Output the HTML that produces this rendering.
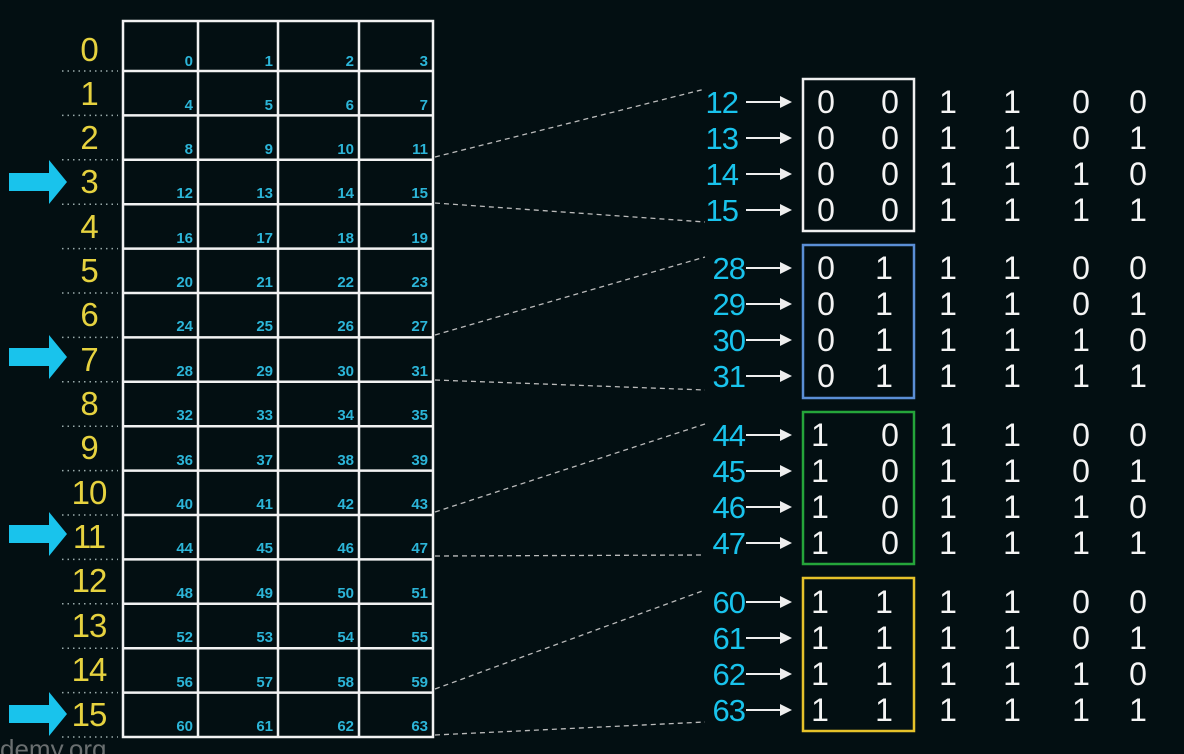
<!DOCTYPE html><html><head><style>body{margin:0;background:#030f12;}svg{display:block}</style></head><body>
<svg width="1184" height="754" viewBox="0 0 1184 754" xmlns="http://www.w3.org/2000/svg" font-family="Liberation Sans, sans-serif">
<rect width="1184" height="754" fill="#030f12"/>
<g stroke="#f2f2f2" stroke-width="2.5" fill="none">
<rect x="123" y="21" width="310" height="716"/>
<line x1="198" y1="21" x2="198" y2="737"/><line x1="278" y1="21" x2="278" y2="737"/><line x1="359" y1="21" x2="359" y2="737"/>
<line x1="123" y1="71" x2="433" y2="71"/><line x1="123" y1="115.4" x2="433" y2="115.4"/><line x1="123" y1="159.8" x2="433" y2="159.8"/><line x1="123" y1="204.2" x2="433" y2="204.2"/><line x1="123" y1="248.6" x2="433" y2="248.6"/><line x1="123" y1="293" x2="433" y2="293"/><line x1="123" y1="337.4" x2="433" y2="337.4"/><line x1="123" y1="381.8" x2="433" y2="381.8"/><line x1="123" y1="426.2" x2="433" y2="426.2"/><line x1="123" y1="470.6" x2="433" y2="470.6"/><line x1="123" y1="515" x2="433" y2="515"/><line x1="123" y1="559.4" x2="433" y2="559.4"/><line x1="123" y1="603.8" x2="433" y2="603.8"/><line x1="123" y1="648.2" x2="433" y2="648.2"/><line x1="123" y1="692.6" x2="433" y2="692.6"/>
</g>
<g stroke="#9aa" stroke-width="1.5" stroke-dasharray="1.5 4">
<line x1="62" y1="71" x2="118" y2="71"/><line x1="62" y1="115.4" x2="118" y2="115.4"/><line x1="62" y1="159.8" x2="118" y2="159.8"/><line x1="62" y1="204.2" x2="118" y2="204.2"/><line x1="62" y1="248.6" x2="118" y2="248.6"/><line x1="62" y1="293" x2="118" y2="293"/><line x1="62" y1="337.4" x2="118" y2="337.4"/><line x1="62" y1="381.8" x2="118" y2="381.8"/><line x1="62" y1="426.2" x2="118" y2="426.2"/><line x1="62" y1="470.6" x2="118" y2="470.6"/><line x1="62" y1="515" x2="118" y2="515"/><line x1="62" y1="559.4" x2="118" y2="559.4"/><line x1="62" y1="603.8" x2="118" y2="603.8"/><line x1="62" y1="648.2" x2="118" y2="648.2"/><line x1="62" y1="692.6" x2="118" y2="692.6"/><line x1="62" y1="737" x2="118" y2="737"/>
</g>
<g fill="#2cb5d8" font-size="15" font-weight="bold" text-anchor="end">
<text x="193" y="66">0</text><text x="273" y="66">1</text><text x="354" y="66">2</text><text x="428" y="66">3</text>
<text x="193" y="110">4</text><text x="273" y="110">5</text><text x="354" y="110">6</text><text x="428" y="110">7</text>
<text x="193" y="154">8</text><text x="273" y="154">9</text><text x="354" y="154">10</text><text x="428" y="154">11</text>
<text x="193" y="198">12</text><text x="273" y="198">13</text><text x="354" y="198">14</text><text x="428" y="198">15</text>
<text x="193" y="243">16</text><text x="273" y="243">17</text><text x="354" y="243">18</text><text x="428" y="243">19</text>
<text x="193" y="287">20</text><text x="273" y="287">21</text><text x="354" y="287">22</text><text x="428" y="287">23</text>
<text x="193" y="331">24</text><text x="273" y="331">25</text><text x="354" y="331">26</text><text x="428" y="331">27</text>
<text x="193" y="376">28</text><text x="273" y="376">29</text><text x="354" y="376">30</text><text x="428" y="376">31</text>
<text x="193" y="420">32</text><text x="273" y="420">33</text><text x="354" y="420">34</text><text x="428" y="420">35</text>
<text x="193" y="465">36</text><text x="273" y="465">37</text><text x="354" y="465">38</text><text x="428" y="465">39</text>
<text x="193" y="509">40</text><text x="273" y="509">41</text><text x="354" y="509">42</text><text x="428" y="509">43</text>
<text x="193" y="553">44</text><text x="273" y="553">45</text><text x="354" y="553">46</text><text x="428" y="553">47</text>
<text x="193" y="598">48</text><text x="273" y="598">49</text><text x="354" y="598">50</text><text x="428" y="598">51</text>
<text x="193" y="642">52</text><text x="273" y="642">53</text><text x="354" y="642">54</text><text x="428" y="642">55</text>
<text x="193" y="687">56</text><text x="273" y="687">57</text><text x="354" y="687">58</text><text x="428" y="687">59</text>
<text x="193" y="731">60</text><text x="273" y="731">61</text><text x="354" y="731">62</text><text x="428" y="731">63</text>
</g>
<g fill="#e6d23f" font-size="33" text-anchor="middle" letter-spacing="-1">
<text x="89" y="61">0</text><text x="89" y="105">1</text><text x="89" y="149">2</text><text x="89" y="193">3</text><text x="89" y="238">4</text><text x="89" y="282">5</text><text x="89" y="326">6</text><text x="89" y="371">7</text><text x="89" y="415">8</text><text x="89" y="459">9</text><text x="89" y="504">10</text><text x="89" y="548">11</text><text x="89" y="592">12</text><text x="89" y="637">13</text><text x="89" y="681">14</text><text x="89" y="726">15</text>
</g>
<g fill="#19c3ec">
<path d="M9 173h40v-13l18 22-18 22v-13H9z"/>
<path d="M9 348h40v-13l18 22-18 22v-13H9z"/>
<path d="M9 525h40v-13l18 22-18 22v-13H9z"/>
<path d="M9 705h40v-13l18 22-18 22v-13H9z"/>
</g>
<g stroke="#bbb" stroke-width="1.3" stroke-dasharray="5 4">
<line x1="435" y1="157" x2="705" y2="89"/><line x1="435" y1="203" x2="705" y2="222"/>
<line x1="435" y1="335" x2="705" y2="257"/><line x1="435" y1="380" x2="705" y2="390"/>
<line x1="435" y1="512" x2="705" y2="424"/><line x1="435" y1="556" x2="705" y2="555"/>
<line x1="435" y1="689" x2="705" y2="590"/><line x1="435" y1="735" x2="705" y2="722"/>
</g>
<g fill="none" stroke-width="2.5">
<rect x="803" y="79" width="111" height="152" stroke="#f0f0f0"/>
<rect x="803" y="245" width="111" height="153" stroke="#5b8fd6"/>
<rect x="803" y="412" width="111" height="152" stroke="#25a53a"/>
<rect x="803" y="578" width="111" height="153" stroke="#e6c22a"/>
</g>
<g stroke="#eee" stroke-width="2">
<line x1="746" y1="102" x2="782" y2="102"/><line x1="746" y1="138" x2="782" y2="138"/><line x1="746" y1="174" x2="782" y2="174"/><line x1="746" y1="210" x2="782" y2="210"/>
<line x1="746" y1="268" x2="782" y2="268"/><line x1="746" y1="304" x2="782" y2="304"/><line x1="746" y1="340" x2="782" y2="340"/><line x1="746" y1="376" x2="782" y2="376"/>
<line x1="746" y1="435" x2="782" y2="435"/><line x1="746" y1="471" x2="782" y2="471"/><line x1="746" y1="507" x2="782" y2="507"/><line x1="746" y1="543" x2="782" y2="543"/>
<line x1="746" y1="602" x2="782" y2="602"/><line x1="746" y1="638" x2="782" y2="638"/><line x1="746" y1="674" x2="782" y2="674"/><line x1="746" y1="710" x2="782" y2="710"/>
</g>
<g fill="#eee">
<path d="M780 96l12 6-12 6z"/><path d="M780 132l12 6-12 6z"/><path d="M780 168l12 6-12 6z"/><path d="M780 204l12 6-12 6z"/>
<path d="M780 262l12 6-12 6z"/><path d="M780 298l12 6-12 6z"/><path d="M780 334l12 6-12 6z"/><path d="M780 370l12 6-12 6z"/>
<path d="M780 429l12 6-12 6z"/><path d="M780 465l12 6-12 6z"/><path d="M780 501l12 6-12 6z"/><path d="M780 537l12 6-12 6z"/>
<path d="M780 596l12 6-12 6z"/><path d="M780 632l12 6-12 6z"/><path d="M780 668l12 6-12 6z"/><path d="M780 704l12 6-12 6z"/>
</g>
<g fill="#19c3ec" font-size="31" text-anchor="end" letter-spacing="-1">
<text x="738" y="113">12</text><text x="738" y="149">13</text><text x="738" y="185">14</text><text x="738" y="221">15</text>
<text x="745" y="279">28</text><text x="745" y="315">29</text><text x="745" y="351">30</text><text x="745" y="387">31</text>
<text x="745" y="446">44</text><text x="745" y="482">45</text><text x="745" y="518">46</text><text x="745" y="554">47</text>
<text x="745" y="613">60</text><text x="745" y="649">61</text><text x="745" y="685">62</text><text x="745" y="721">63</text>
</g>
<g fill="#f4f4f4" font-size="32" text-anchor="middle">
<text x="826" y="113">0</text><text x="890" y="113">0</text><text x="948" y="113">1</text><text x="1012" y="113">1</text><text x="1081" y="113">0</text><text x="1138" y="113">0</text>
<text x="826" y="149">0</text><text x="890" y="149">0</text><text x="948" y="149">1</text><text x="1012" y="149">1</text><text x="1081" y="149">0</text><text x="1138" y="149">1</text>
<text x="826" y="185">0</text><text x="890" y="185">0</text><text x="948" y="185">1</text><text x="1012" y="185">1</text><text x="1081" y="185">1</text><text x="1138" y="185">0</text>
<text x="826" y="221">0</text><text x="890" y="221">0</text><text x="948" y="221">1</text><text x="1012" y="221">1</text><text x="1081" y="221">1</text><text x="1138" y="221">1</text>
<text x="826" y="279">0</text><text x="884" y="279">1</text><text x="948" y="279">1</text><text x="1012" y="279">1</text><text x="1081" y="279">0</text><text x="1138" y="279">0</text>
<text x="826" y="315">0</text><text x="884" y="315">1</text><text x="948" y="315">1</text><text x="1012" y="315">1</text><text x="1081" y="315">0</text><text x="1138" y="315">1</text>
<text x="826" y="351">0</text><text x="884" y="351">1</text><text x="948" y="351">1</text><text x="1012" y="351">1</text><text x="1081" y="351">1</text><text x="1138" y="351">0</text>
<text x="826" y="387">0</text><text x="884" y="387">1</text><text x="948" y="387">1</text><text x="1012" y="387">1</text><text x="1081" y="387">1</text><text x="1138" y="387">1</text>
<text x="820" y="446">1</text><text x="890" y="446">0</text><text x="948" y="446">1</text><text x="1012" y="446">1</text><text x="1081" y="446">0</text><text x="1138" y="446">0</text>
<text x="820" y="482">1</text><text x="890" y="482">0</text><text x="948" y="482">1</text><text x="1012" y="482">1</text><text x="1081" y="482">0</text><text x="1138" y="482">1</text>
<text x="820" y="518">1</text><text x="890" y="518">0</text><text x="948" y="518">1</text><text x="1012" y="518">1</text><text x="1081" y="518">1</text><text x="1138" y="518">0</text>
<text x="820" y="554">1</text><text x="890" y="554">0</text><text x="948" y="554">1</text><text x="1012" y="554">1</text><text x="1081" y="554">1</text><text x="1138" y="554">1</text>
<text x="820" y="613">1</text><text x="884" y="613">1</text><text x="948" y="613">1</text><text x="1012" y="613">1</text><text x="1081" y="613">0</text><text x="1138" y="613">0</text>
<text x="820" y="649">1</text><text x="884" y="649">1</text><text x="948" y="649">1</text><text x="1012" y="649">1</text><text x="1081" y="649">0</text><text x="1138" y="649">1</text>
<text x="820" y="685">1</text><text x="884" y="685">1</text><text x="948" y="685">1</text><text x="1012" y="685">1</text><text x="1081" y="685">1</text><text x="1138" y="685">0</text>
<text x="820" y="721">1</text><text x="884" y="721">1</text><text x="948" y="721">1</text><text x="1012" y="721">1</text><text x="1081" y="721">1</text><text x="1138" y="721">1</text>
</g>
<text x="0" y="758" fill="#6a6f70" font-size="26">demy.org</text>
</svg>
</body></html>
